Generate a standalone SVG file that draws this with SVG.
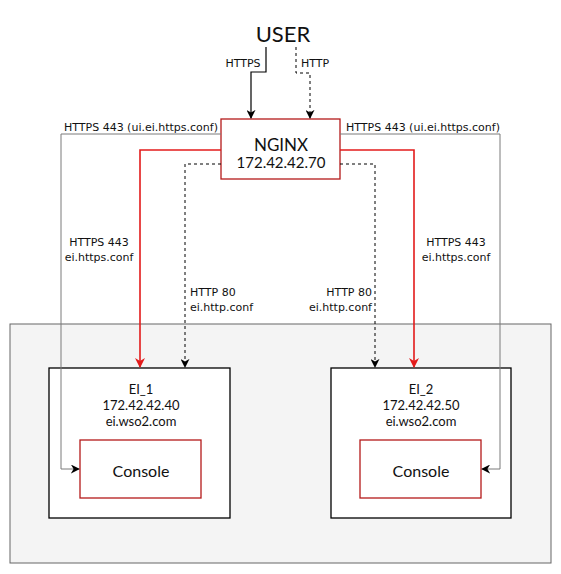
<svg xmlns="http://www.w3.org/2000/svg" width="561" height="574" viewBox="0 0 561 574">
<style>
.node{font-family:Lato,"Noto Sans",sans-serif;fill:#111;text-anchor:middle}
.lbl{font-family:"DejaVu Sans",Verdana,sans-serif;font-size:11px;fill:#111}
.box{fill:#fff;stroke:#000;stroke-width:1.3}
.rbox{fill:#fff;stroke:#b41a1a;stroke-width:1.3}
.red{fill:none;stroke:#e31b1b;stroke-width:1.6}
.dash{fill:none;stroke:#000;stroke-width:1;stroke-dasharray:3,3}
.solid{fill:none;stroke:#000;stroke-width:1.2}
.gray{fill:none;stroke:#7a7a7a;stroke-width:1}
</style>
<defs>
<marker id="ab" viewBox="0 0 10 10" refX="9" refY="5" markerWidth="9" markerHeight="9" markerUnits="userSpaceOnUse" orient="auto"><path d="M0,0 L10,5 L0,10 L3,5 z" fill="#000"/></marker>
<marker id="ar" viewBox="0 0 10 10" refX="9" refY="5" markerWidth="10" markerHeight="10" markerUnits="userSpaceOnUse" orient="auto"><path d="M0,0 L10,5 L0,10 L3,5 z" fill="#e31b1b"/></marker>
</defs>
<rect x="10" y="324" width="541" height="239" fill="#f4f4f4" stroke="#666" stroke-width="1"/>
<g id="user"><text class="node" x="283" y="42" font-size="22">USER</text></g>
<g id="nginx"><rect class="rbox" x="221" y="119" width="119" height="60"/>
<text class="node" x="281" y="151" font-size="17">NGINX</text>
<text class="node" x="281" y="168" font-size="15">172.42.42.70</text></g>
<g id="ei1"><rect class="box" x="49" y="368" width="181" height="150"/>
<text class="node" x="141" y="394" font-size="13">EI_1</text>
<text class="node" x="141" y="410" font-size="13">172.42.42.40</text>
<text class="node" x="141" y="426" font-size="13">ei.wso2.com</text></g>
<g id="console1"><rect class="rbox" x="80" y="440" width="121" height="58"/>
<text class="node" x="141" y="477" font-size="16">Console</text></g>
<g id="ei2"><rect class="box" x="331" y="368" width="180" height="150"/>
<text class="node" x="421" y="394" font-size="13">EI_2</text>
<text class="node" x="421" y="410" font-size="13">172.42.42.50</text>
<text class="node" x="421" y="426" font-size="13">ei.wso2.com</text></g>
<g id="console2"><rect class="rbox" x="360" y="440" width="121" height="58"/>
<text class="node" x="421" y="477" font-size="16">Console</text></g>
<g id="connectors">
<path class="solid" d="M266,47 V72 H251 V118" marker-end="url(#ab)"/>
<path class="dash" d="M296,47 V73 H310 V118" marker-end="url(#ab)"/>
<path class="red" d="M221,150 H140 V367" marker-end="url(#ar)"/>
<path class="red" d="M340,150 H414 V367" marker-end="url(#ar)"/>
<path class="dash" d="M221,164 H185 V367" marker-end="url(#ab)"/>
<path class="dash" d="M340,164 H375 V367" marker-end="url(#ab)"/>
<path class="gray" d="M221,134 H61 V469 H79" marker-end="url(#ab)"/>
<path class="gray" d="M340,134 H500 V469 H482" marker-end="url(#ab)"/>
<text class="lbl" x="243" y="67" text-anchor="middle">HTTPS</text>
<text class="lbl" x="315" y="67" text-anchor="middle">HTTP</text>
<text class="lbl" x="141" y="131" text-anchor="middle">HTTPS 443 (ui.ei.https.conf)</text>
<text class="lbl" x="423" y="131" text-anchor="middle">HTTPS 443 (ui.ei.https.conf)</text>
<text class="lbl" x="99" y="246" text-anchor="middle">HTTPS 443</text>
<text class="lbl" x="99" y="261" text-anchor="middle">ei.https.conf</text>
<text class="lbl" x="456" y="246" text-anchor="middle">HTTPS 443</text>
<text class="lbl" x="456" y="261" text-anchor="middle">ei.https.conf</text>
<text class="lbl" x="190" y="296">HTTP 80</text>
<text class="lbl" x="190" y="311">ei.http.conf</text>
<text class="lbl" x="372" y="296" text-anchor="end">HTTP 80</text>
<text class="lbl" x="372" y="311" text-anchor="end">ei.http.conf</text>
</g>
</svg>
